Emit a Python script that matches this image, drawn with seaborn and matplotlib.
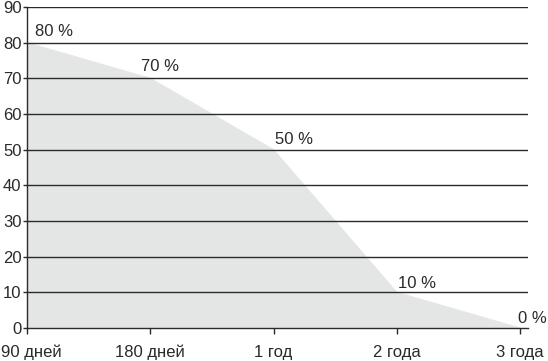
import matplotlib
matplotlib.use("Agg")
import matplotlib.pyplot as plt
import matplotlib.transforms as mtransforms
import pandas as pd
import seaborn as sns

# periods and share remaining (%)
periods = ["90 дней", "180 дней", "1 год", "2 года", "3 года"]
shares = [80, 70, 50, 10, 0]
point_labels = ["80 %", "70 %", "50 %", "10 %", "0 %"]

sns.set_theme(style="white")
plt.rcParams["font.family"] = ["Liberation Sans", "DejaVu Sans"]

df = pd.DataFrame({"pos": range(len(periods)), "share": shares})

fig = plt.figure(figsize=(5.48, 3.61), dpi=100)
ax = fig.add_axes([0.0493, 0.0914, 0.9142, 0.8892])

fill_color = "#e4e5e5"
ax.fill_between(df["pos"], df["share"], 0, color=fill_color, linewidth=0, zorder=1)
sns.lineplot(data=df, x="pos", y="share", ax=ax, color=fill_color, linewidth=0.8, zorder=1)

for yv in range(10, 91, 10):
    ax.axhline(yv, color="#2b2b2b", linewidth=1.0, zorder=2)

# label offsets in points (style only)
offsets = [(5.8, 5), (-6.5, 5), (1.4, 4.3), (0.7, 3), (-1.5, 3.6)]
for x, y, txt, off in zip(df["pos"], df["share"], point_labels, offsets):
    ax.annotate(txt, (x, y), xytext=off, textcoords="offset points",
                ha="left", va="baseline", fontsize=12, color="#2a2a2a", zorder=3)

ax.set_xlim(0, 4.065)
ax.set_ylim(0, 90)
ax.set_xticks(range(len(periods)))
ax.set_xticklabels(periods)
ax.set_yticks(range(0, 91, 10))
ax.set_xlabel("")
ax.set_ylabel("")

for side in ["top", "right"]:
    ax.spines[side].set_visible(False)
for side in ["left", "bottom"]:
    ax.spines[side].set_color("#2b2b2b")
    ax.spines[side].set_linewidth(1.0)

ax.tick_params(axis="x", direction="out", length=4, width=1, color="#2b2b2b",
               pad=8, labelsize=12, labelcolor="#2a2a2a", bottom=True)
ax.tick_params(axis="y", direction="out", length=3, width=1, color="#2b2b2b",
               pad=1, labelsize=12, labelcolor="#2a2a2a", left=True)

# first x label sits flush with the left edge
first = ax.get_xticklabels()[0]
first.set_transform(first.get_transform() +
                    mtransforms.ScaledTranslation(3 / 72, 0, fig.dpi_scale_trans))

fig.savefig("out.png", dpi=100)
